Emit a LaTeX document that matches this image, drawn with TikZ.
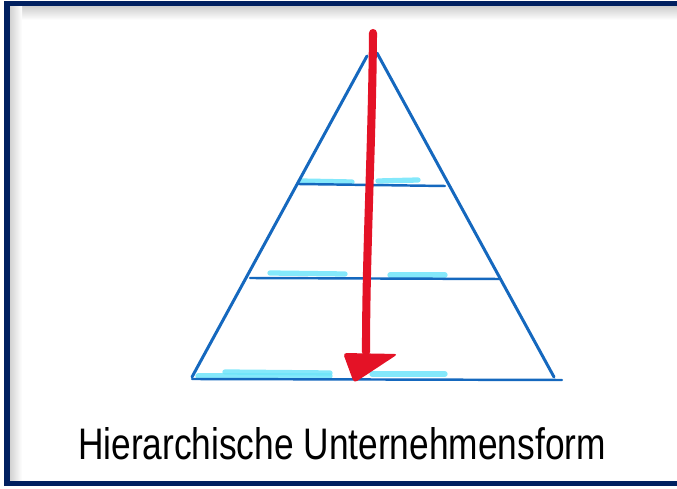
\documentclass[tikz,border=0pt]{standalone}
\usepackage{fontspec}
\newfontfamily\handfont{Liberation Sans}
\usepackage{xcolor}
\definecolor{navyframe}{RGB}{0,32,96}
\definecolor{pyrblue}{RGB}{21,104,190}
\definecolor{hilite}{RGB}{110,228,250}
\definecolor{flowred}{RGB}{228,18,38}

\begin{document}
\begin{tikzpicture}[
    x=0.02cm, y=-0.02cm,
    frame/.style={draw=navyframe, line width=3.4pt},
    edge/.style={draw=pyrblue, line width=1.7pt, line cap=round},
    rung/.style={draw=pyrblue, line width=1.4pt, line cap=round},
    marker/.style={draw=hilite, line width=3pt, line cap=round, opacity=0.85},
    flow/.style={draw=flowred, line width=4.6pt, line cap=round},
    caption/.style={font=\handfont, inner sep=0pt},
]
\useasboundingbox (0,0) rectangle (677,489);

% ── frame with soft inner shadow ────────────────────────────
\shade[top color=black!22, bottom color=white] (7,4) rectangle (677,20);
\shade[left color=black!22, right color=white] (7,4) rectangle (22,483);
\draw[frame] (682,3.5) -- (7,3.5) -- (7,483.5) -- (682,483.5);

% ── pyramid corners ─────────────────────────────────────────
\coordinate (apexL) at (367,56);
\coordinate (apexR) at (377,53);
\coordinate (baseL) at (192,377);
\coordinate (baseR) at (554,377);

% ── highlighter strokes ─────────────────────────────────────
\draw[marker] (300,181) -- (352,182);
\draw[marker] (378,181) -- (418,180);
\draw[marker] (270,273) -- (345,274);
\draw[marker] (390,275) -- (445,275);
\draw[marker] (198,376) -- (330,376);
\draw[marker] (225,372) -- (330,373);
\draw[marker] (372,374) -- (445,374);

% ── pyramid ─────────────────────────────────────────────────
\draw[edge] (apexL) -- (baseL);
\draw[edge] (apexR) -- (baseR);
\draw[rung] (298,184) -- (445,186);
\draw[rung] (250,278) -- (499,279);
\draw[rung] (192,379) -- (562,380);

% ── top-down arrow ──────────────────────────────────────────
\draw[flow] (373,33) .. controls (372,150) and (366,250) .. (366,352);
\fill[flowred, rounded corners=2pt] (343,353) -- (398,354) -- (354,383) -- cycle;

% ── caption ─────────────────────────────────────────────────
\node[caption] (title) at (342,444)
    {\resizebox{10.56cm}{0.64cm}{Hierarchische Unternehmensform}};

\end{tikzpicture}
\end{document}
